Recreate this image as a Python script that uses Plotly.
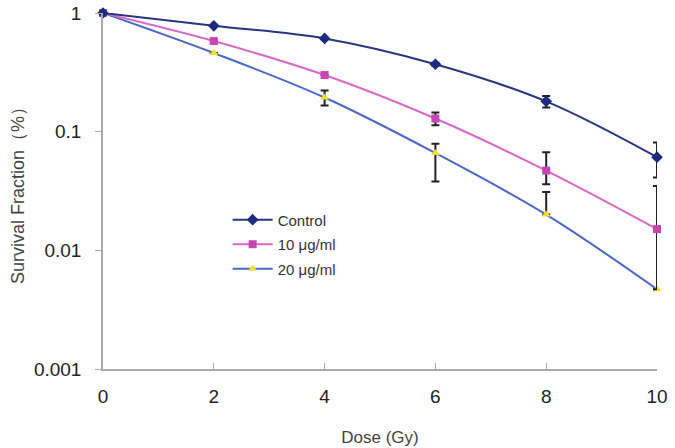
import plotly.graph_objects as go

dose = [0, 2, 4, 6, 8, 10]
control = [1.0, 0.78, 0.61, 0.37, 0.18, 0.061]
control_err = [0, 0, 0, 0.01, 0.02, 0.02]
c10 = [1.0, 0.58, 0.30, 0.129, 0.047, 0.0151]
c10_err_plus = [0, 0, 0, 0.016, 0.02, 0.0197]
c10_err_minus = [0, 0, 0, 0.016, 0.011, 0.0104]
c20 = [1.0, 0.46, 0.194, 0.066, 0.020, 0.0047]
c20_err_plus = [0, 0, 0.028, 0.013, 0.011, 0.0]
c20_err_minus = [0, 0, 0.028, 0.028, 0.0, 0.0]

names = ["Control", "10 μg/ml", "20 μg/ml"]
y_ticks = [1, 0.1, 0.01, 0.001]
y_tick_text = ["1", "0.1", "0.01", "0.001"]
x_ticks = [0, 2, 4, 6, 8, 10]

fig = go.Figure()
fig.add_trace(go.Scatter(
    x=dose, y=c20, name=names[2], legendrank=3, legendgroup="g3",
    mode="lines+markers", line_shape="spline",
    line=dict(color="#4a68c8", width=2),
    marker=dict(symbol="triangle-up", size=8, color="#f2df2a"),
    error_y=dict(type="data", symmetric=False, array=c20_err_plus, arrayminus=c20_err_minus,
                 color="#222", thickness=2, width=4),
    cliponaxis=False,
))
fig.add_trace(go.Scatter(
    x=dose, y=c10, name=names[1], legendrank=2, legendgroup="g2",
    mode="lines+markers", line_shape="spline",
    line=dict(color="#d968c6", width=2),
    marker=dict(symbol="square", size=8, color="#c746b4"),
    error_y=dict(type="data", symmetric=False, array=c10_err_plus, arrayminus=c10_err_minus,
                 color="#222", thickness=2, width=4),
    cliponaxis=False,
))
fig.add_trace(go.Scatter(
    x=dose, y=control, name=names[0], legendrank=1, legendgroup="g1",
    mode="lines+markers", line_shape="spline",
    line=dict(color="#283583", width=2),
    marker=dict(symbol="diamond", size=9, color="#1c2a80"),
    error_y=dict(type="data", array=control_err, color="#222", thickness=2, width=4),
    cliponaxis=False,
))

fig.update_layout(
    width=675, height=448,
    margin=dict(l=103, r=18, t=13, b=79),
    paper_bgcolor="white", plot_bgcolor="white",
    font=dict(family="Liberation Sans, Arial, sans-serif", color="#333"),
    showlegend=True,
    legend=dict(x=0.225, y=0.465, xanchor="left", yanchor="top",
                traceorder="grouped", font=dict(size=15, color="#333"),
                bgcolor="rgba(0,0,0,0)", itemwidth=40, tracegroupgap=2),
    xaxis=dict(range=[0, 10], tickvals=x_ticks, showgrid=False, zeroline=False,
               showline=True, linecolor="#aaa", linewidth=1.5, automargin=False,
               ticks="inside", ticklen=6, tickcolor="#aaa",
               tickfont=dict(size=19, color="#222"), ticklabelstandoff=9,
               title=dict(text="Dose (Gy)", font=dict(size=17, color="#444"), standoff=26)),
    yaxis=dict(type="log", range=[-3, 0], tickvals=y_ticks, ticktext=y_tick_text,
               showgrid=False, zeroline=False, automargin=False,
               showline=True, linecolor="#aaa", linewidth=1.5,
               ticks="outside", ticklen=6, tickcolor="#aaa",
               tickfont=dict(size=19, color="#222"), ticklabelstandoff=10,
               title=dict(text="Survival Fraction（%）", font=dict(size=18, color="#444"), standoff=5)),
)

fig.write_html("out.html")
